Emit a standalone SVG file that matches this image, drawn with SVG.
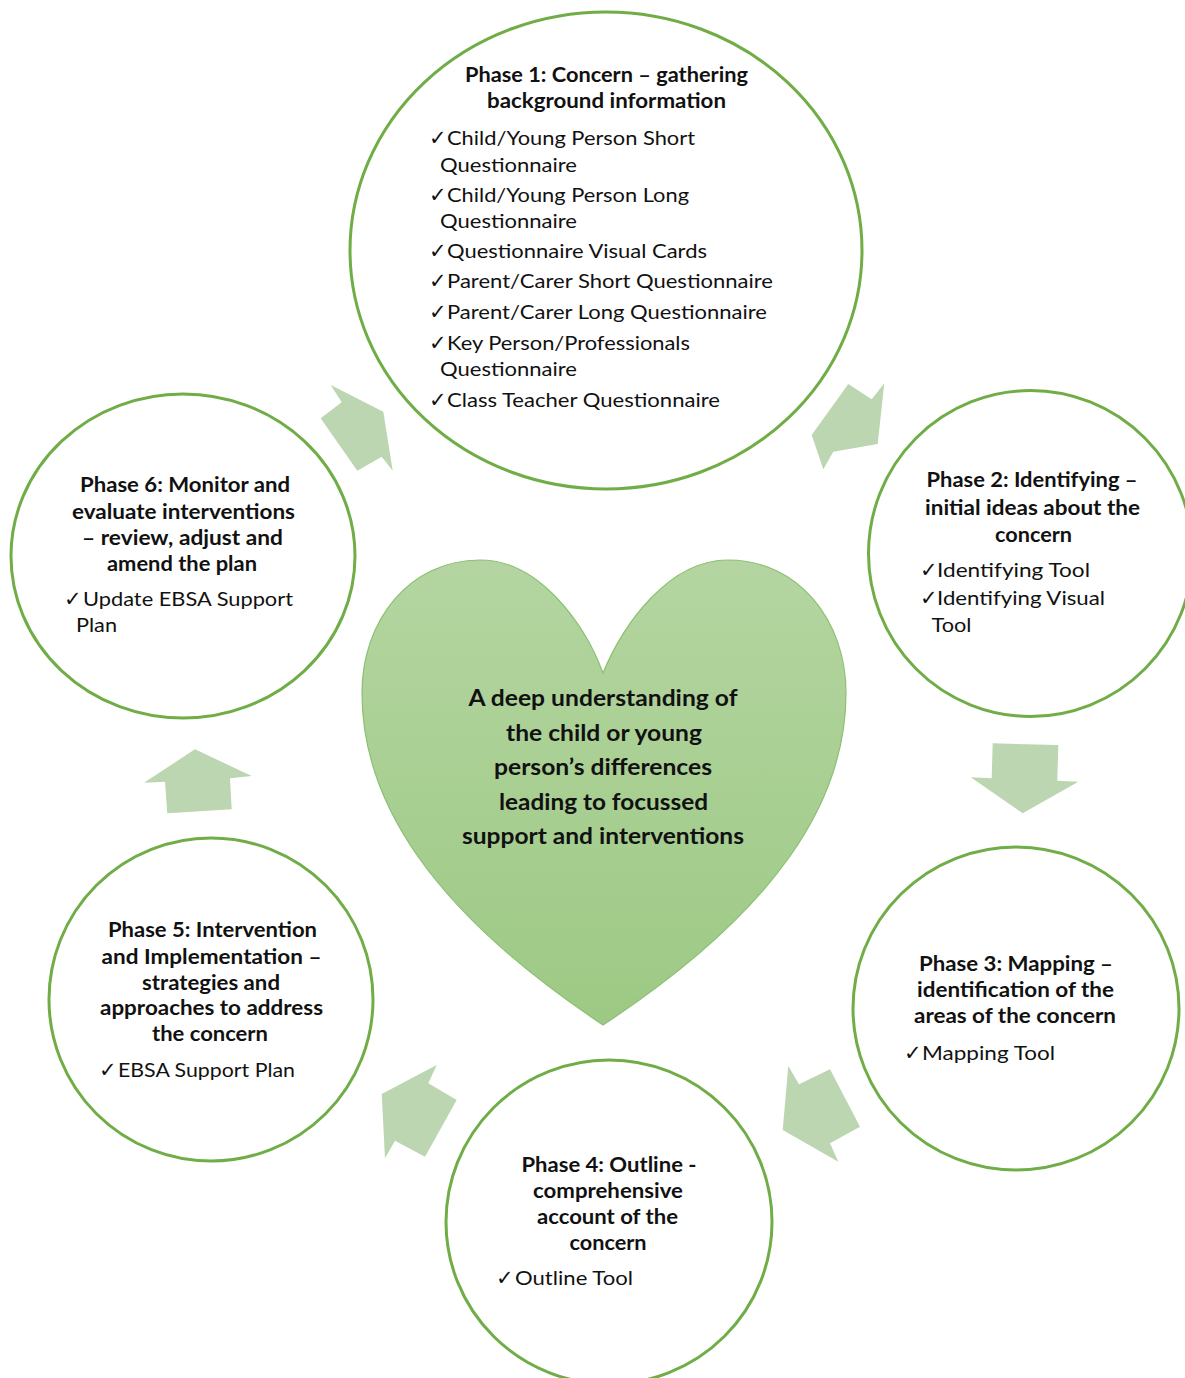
<svg xmlns="http://www.w3.org/2000/svg" width="1185" height="1378" viewBox="0 0 1185 1378">
<defs>
<linearGradient id="hg" x1="0" y1="0" x2="0" y2="1">
<stop offset="0" stop-color="#b4d5a1"/>
<stop offset="1" stop-color="#9dc984"/>
</linearGradient>
<style>
.c{fill:#ffffff;stroke:#70ad47;stroke-width:3}
.a{fill:#bbd6b1;stroke:none}
.h{font-family:Lato,"Open Sans","DejaVu Sans",sans-serif;font-weight:bold;font-size:20px;fill:#111;text-anchor:middle}
.t{font-family:Lato,"Open Sans","DejaVu Sans",sans-serif;font-size:20px;fill:#111}
.k{font-family:"DejaVu Sans",sans-serif;font-size:21px;fill:#111}
.m{font-family:Lato,"Open Sans","DejaVu Sans",sans-serif;font-weight:bold;font-size:22px;fill:#111;text-anchor:middle}
</style>
</defs>
<rect width="1185" height="1378" fill="#ffffff"/>

<g id="connectors">
<polygon class="a" points="330.7,385 341.7,402.3 320.7,418.3 357.3,470.7 381.7,456.7 392.7,470.7 383.3,411.7"/>
<polygon class="a" points="848.3,384 871.7,399.3 884.3,383.3 877.7,444 833.3,451.7 823.3,469.3 811.7,435"/>
<polygon class="a" points="992.7,743.3 1058.3,745 1057.3,780.7 1078.3,781.7 1022.7,813.3 970.7,777.3 991.7,778.3"/>
<polygon class="a" points="788.3,1066 799,1084.3 830,1069.3 860,1126.7 830,1143.3 838.3,1161.7 782.7,1130"/>
<polygon class="a" points="436.7,1065 428.3,1083.3 456.7,1100 425,1156.7 395,1140.7 385,1158.3 381.7,1094"/>
<polygon class="a" points="195,749.3 251.7,776 230,778.3 231.7,809.3 167.3,813.3 165,781.7 144,782.7"/>
</g>

<g id="heart">
<path d="M603,673 C585,625 540,560 480,560 C410,560 362,620 362,693 C362,800 430,910 603,1025 C778,910 846,800 846,693 C846,620 798,560 728,560 C668,560 623,625 603,673 Z" fill="url(#hg)" stroke="#8cc073" stroke-width="1.2"/>
<text class="m" x="603" y="706" textLength="269" lengthAdjust="spacingAndGlyphs">A deep understanding of</text>
<text class="m" x="604" y="740.5" textLength="196" lengthAdjust="spacingAndGlyphs">the child or young</text>
<text class="m" x="603" y="775" textLength="218" lengthAdjust="spacingAndGlyphs">person’s differences</text>
<text class="m" x="603.5" y="809.5" textLength="209" lengthAdjust="spacingAndGlyphs">leading to focussed</text>
<text class="m" x="603" y="844" textLength="282" lengthAdjust="spacingAndGlyphs">support and interventions</text>
</g>

<g id="phase1">
<ellipse class="c" cx="606" cy="250.5" rx="256" ry="238.5"/>
<text class="h" x="606.5" y="82" textLength="283" lengthAdjust="spacingAndGlyphs">Phase 1: Concern – gathering</text>
<text class="h" x="606.5" y="108" textLength="239" lengthAdjust="spacingAndGlyphs">background information</text>
<text class="k" x="429" y="145">✓</text><text class="t" x="447" y="145" textLength="248" lengthAdjust="spacingAndGlyphs">Child/Young Person Short</text>
<text class="t" x="440" y="171.5" textLength="137" lengthAdjust="spacingAndGlyphs">Questionnaire</text>
<text class="k" x="429" y="201.5">✓</text><text class="t" x="447" y="201.5" textLength="242" lengthAdjust="spacingAndGlyphs">Child/Young Person Long</text>
<text class="t" x="440" y="228" textLength="137" lengthAdjust="spacingAndGlyphs">Questionnaire</text>
<text class="k" x="429" y="258">✓</text><text class="t" x="447" y="258" textLength="260" lengthAdjust="spacingAndGlyphs">Questionnaire Visual Cards</text>
<text class="k" x="429" y="288">✓</text><text class="t" x="447" y="288" textLength="326" lengthAdjust="spacingAndGlyphs">Parent/Carer Short Questionnaire</text>
<text class="k" x="429" y="318.5">✓</text><text class="t" x="447" y="318.5" textLength="320" lengthAdjust="spacingAndGlyphs">Parent/Carer Long Questionnaire</text>
<text class="k" x="429" y="350">✓</text><text class="t" x="447" y="350" textLength="243" lengthAdjust="spacingAndGlyphs">Key Person/Professionals</text>
<text class="t" x="440" y="375.5" textLength="137" lengthAdjust="spacingAndGlyphs">Questionnaire</text>
<text class="k" x="429" y="406.5">✓</text><text class="t" x="447" y="406.5" textLength="273" lengthAdjust="spacingAndGlyphs">Class Teacher Questionnaire</text>
</g>

<g id="phase2">
<ellipse class="c" cx="1030.5" cy="553.5" rx="162" ry="163"/>
<text class="h" x="1032" y="487" textLength="211" lengthAdjust="spacingAndGlyphs">Phase 2: Identifying –</text>
<text class="h" x="1032.5" y="515" textLength="215" lengthAdjust="spacingAndGlyphs">initial ideas about the</text>
<text class="h" x="1033.5" y="541.5" textLength="77" lengthAdjust="spacingAndGlyphs">concern</text>
<text class="k" x="920" y="577">✓</text><text class="t" x="937" y="577" textLength="153" lengthAdjust="spacingAndGlyphs">Identifying Tool</text>
<text class="k" x="920" y="605">✓</text><text class="t" x="937" y="605" textLength="168" lengthAdjust="spacingAndGlyphs">Identifying Visual</text>
<text class="t" x="931.5" y="632" textLength="40" lengthAdjust="spacingAndGlyphs">Tool</text>
</g>

<g id="phase3">
<ellipse class="c" cx="1016" cy="1008.5" rx="163" ry="161.5"/>
<text class="h" x="1016" y="971" textLength="194" lengthAdjust="spacingAndGlyphs">Phase 3: Mapping –</text>
<text class="h" x="1015.5" y="997" textLength="197" lengthAdjust="spacingAndGlyphs">identification of the</text>
<text class="h" x="1015" y="1023" textLength="202" lengthAdjust="spacingAndGlyphs">areas of the concern</text>
<text class="k" x="904" y="1060">✓</text><text class="t" x="922" y="1060" textLength="133" lengthAdjust="spacingAndGlyphs">Mapping Tool</text>
</g>

<g id="phase4">
<ellipse class="c" cx="609" cy="1222" rx="163" ry="162"/>
<text class="h" x="609" y="1171.5" textLength="175" lengthAdjust="spacingAndGlyphs">Phase 4: Outline -</text>
<text class="h" x="608" y="1198" textLength="150" lengthAdjust="spacingAndGlyphs">comprehensive</text>
<text class="h" x="607.5" y="1223.5" textLength="141" lengthAdjust="spacingAndGlyphs">account of the</text>
<text class="h" x="608" y="1250" textLength="77" lengthAdjust="spacingAndGlyphs">concern</text>
<text class="k" x="496" y="1285">✓</text><text class="t" x="515" y="1285" textLength="118" lengthAdjust="spacingAndGlyphs">Outline Tool</text>
</g>

<g id="phase5">
<ellipse class="c" cx="211" cy="999.5" rx="162" ry="161.5"/>
<text class="h" x="212.5" y="937" textLength="209" lengthAdjust="spacingAndGlyphs">Phase 5: Intervention</text>
<text class="h" x="211.5" y="963.5" textLength="220" lengthAdjust="spacingAndGlyphs">and Implementation –</text>
<text class="h" x="211" y="989.5" textLength="138" lengthAdjust="spacingAndGlyphs">strategies and</text>
<text class="h" x="211.5" y="1015" textLength="223" lengthAdjust="spacingAndGlyphs">approaches to address</text>
<text class="h" x="210" y="1040.5" textLength="116" lengthAdjust="spacingAndGlyphs">the concern</text>
<text class="k" x="99" y="1077">✓</text><text class="t" x="118" y="1077" textLength="177" lengthAdjust="spacingAndGlyphs">EBSA Support Plan</text>
</g>

<g id="phase6">
<ellipse class="c" cx="183" cy="556" rx="172" ry="162"/>
<text class="h" x="185" y="492" textLength="210" lengthAdjust="spacingAndGlyphs">Phase 6: Monitor and</text>
<text class="h" x="183.5" y="518.5" textLength="223" lengthAdjust="spacingAndGlyphs">evaluate interventions</text>
<text class="h" x="182.5" y="545" textLength="201" lengthAdjust="spacingAndGlyphs">– review, adjust and</text>
<text class="h" x="182" y="571" textLength="150" lengthAdjust="spacingAndGlyphs">amend the plan</text>
<text class="k" x="64" y="606">✓</text><text class="t" x="83" y="606" textLength="210" lengthAdjust="spacingAndGlyphs">Update EBSA Support</text>
<text class="t" x="76" y="632" textLength="41" lengthAdjust="spacingAndGlyphs">Plan</text>
</g>
</svg>
